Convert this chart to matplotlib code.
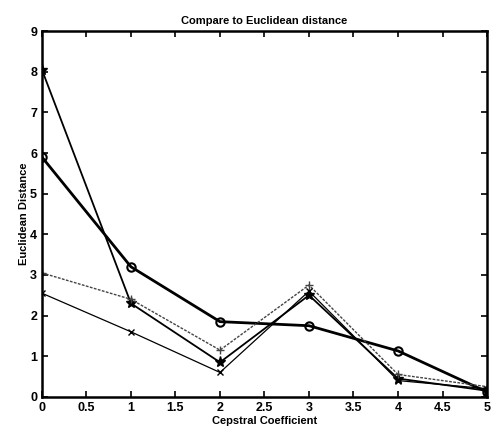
import matplotlib
matplotlib.use("Agg")
import matplotlib.pyplot as plt

plt.rcParams["font.family"] = ["Liberation Sans", "DejaVu Sans"]

# cepstral coefficient index
coef = [0, 1, 2, 3, 4, 5]

# euclidean distance for each curve
dist_star = [8.05, 2.3, 0.85, 2.5, 0.45, 0.15]
dist_circle = [5.9, 3.2, 1.85, 1.75, 1.13, 0.12]
dist_plus = [3.05, 2.4, 1.15, 2.75, 0.55, 0.25]
dist_x = [2.55, 1.6, 0.6, 2.6, 0.4, 0.2]

xticks = [0, 0.5, 1, 1.5, 2, 2.5, 3, 3.5, 4, 4.5, 5]
xticklabels = ["0", "0.5", "1", "1.5", "2", "2.5", "3", "3.5", "4", "4.5", "5"]
yticks = list(range(10))

fig = plt.figure(figsize=(4.99, 4.38), dpi=100)
ax = fig.add_axes([0.084, 0.094, 0.892, 0.835])

ax.plot(coef, dist_star, color="black", linewidth=1.3, marker="*", markersize=8)
ax.plot(coef, dist_circle, color="black", linewidth=2.0, marker="o",
        markersize=6, markerfacecolor="none", markeredgewidth=1.5)
ax.plot(coef, dist_plus, color="#444444", linewidth=1.0, linestyle=(0, (2, 1)),
        marker="+", markersize=6)
ax.plot(coef, dist_x, color="black", linewidth=0.9, marker="x", markersize=4)

ax.set_xlim(0, 5)
ax.set_ylim(0, 9)
ax.set_xticks(xticks)
ax.set_xticklabels(xticklabels)
ax.set_yticks(yticks)
ax.tick_params(direction="in", top=True, right=True, labelsize=9, width=1.2, length=4)
for lbl in ax.get_xticklabels() + ax.get_yticklabels():
    lbl.set_fontweight("bold")
for sp in ax.spines.values():
    sp.set_linewidth(1.8)

ax.set_title("Compare to Euclidean distance", fontsize=8, fontweight="bold", pad=5)
ax.set_xlabel("Cepstral Coefficient", fontsize=8, fontweight="bold", labelpad=2)
ax.set_ylabel("Euclidean Distance", fontsize=8, fontweight="bold", labelpad=1)

fig.savefig("out.png", dpi=100)
